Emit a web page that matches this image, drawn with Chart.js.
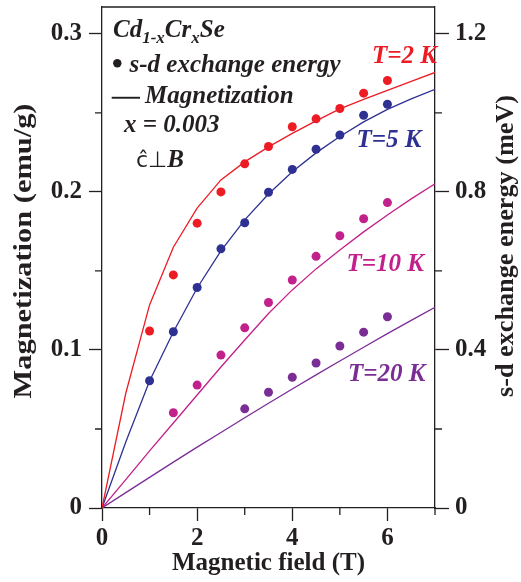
<!DOCTYPE html>
<html><head><meta charset="utf-8">
<script src="https://cdn.jsdelivr.net/npm/chart.js@4.4.1/dist/chart.umd.min.js"></script>
<style>html,body{margin:0;padding:0;background:#fff;}#wrap{width:521px;height:582px;}</style>
</head><body><div id="wrap"><canvas id="c" width="521" height="582"></canvas></div>
<script>
// Magnetization curves (left axis, emu/g), sampled every 0.5 T
const fieldLine = [0, 0.5, 1, 1.5, 2, 2.5, 3, 3.5, 4, 4.5, 5, 5.5, 6, 6.5, 7];
const magT2  = [0, 0.0726, 0.1285, 0.1650, 0.1897, 0.2076, 0.2190, 0.2285, 0.2370, 0.2449, 0.2525, 0.2585, 0.2642, 0.2699, 0.2756];
const magT5  = [0, 0.0418, 0.0804, 0.1114, 0.1392, 0.1627, 0.1823, 0.1987, 0.2127, 0.2247, 0.2351, 0.2443, 0.2522, 0.2589, 0.2649];
const magT10 = [0, 0.0180, 0.0361, 0.0538, 0.0715, 0.0892, 0.1063, 0.1231, 0.1380, 0.1513, 0.1633, 0.1747, 0.1854, 0.1956, 0.2051];
const magT20 = [0, 0.0097, 0.0194, 0.0290, 0.0385, 0.0478, 0.0571, 0.0663, 0.0753, 0.0842, 0.0930, 0.1017, 0.1103, 0.1187, 0.1270];

// s-d exchange energy points (right axis, meV)
const fieldT2  = [1, 1.5, 2, 2.5, 3, 3.5, 4, 4.5, 5, 5.5, 6];
const sdT2     = [0.448, 0.590, 0.721, 0.800, 0.871, 0.915, 0.965, 0.985, 1.011, 1.050, 1.082];
const fieldT5  = [1, 1.5, 2, 2.5, 3, 3.5, 4, 4.5, 5, 5.5, 6];
const sdT5     = [0.322, 0.446, 0.558, 0.656, 0.722, 0.799, 0.857, 0.908, 0.944, 0.994, 1.022];
const fieldT10 = [1.5, 2, 2.5, 3, 3.5, 4, 4.5, 5, 5.5, 6];
const sdT10    = [0.241, 0.311, 0.387, 0.456, 0.520, 0.577, 0.637, 0.689, 0.732, 0.773];
const fieldT20 = [3, 3.5, 4, 4.5, 5, 5.5, 6];
const sdT20    = [0.251, 0.293, 0.331, 0.367, 0.410, 0.445, 0.484];

// Tick labels
const xTickLabels  = {0: '0', 2: '2', 4: '4', 6: '6'};
const yTickLabels  = ['0', '0.1', '0.2', '0.3'];
const y2TickLabels = ['0', '0.4', '0.8', '1.2'];

const tempLabels = ['T=2 K', 'T=5 K', 'T=10 K', 'T=20 K'];
const xTitle = 'Magnetic field (T)';
const yTitle = 'Magnetization (emu/g)';
const y2Title = 's-d exchange energy (meV)';

const RED = '#ed1c24', BLUE = '#2e3192', MAG = '#c2208b', PUR = '#7b2d96';
const INK = '#231f20';
const SERIF = "'Liberation Serif', 'Times New Roman', serif";

const pts = (xs, ys) => xs.map((x, i) => ({x: x, y: ys[i]}));
const lineDs = (ys, c) => ({type: 'line', data: pts(fieldLine, ys), yAxisID: 'y', borderColor: c,
  borderWidth: 1.3, pointRadius: 0, tension: 0, fill: false});
const dotDs = (xs, ys, c) => ({type: 'scatter', data: pts(xs, ys), yAxisID: 'y2', backgroundColor: c,
  borderColor: c, borderWidth: 0, pointRadius: 4.5, showLine: false});

const isMult = (v, s) => Math.abs(v / s - Math.round(v / s)) < 1e-6;
const noPadV = s => { s.paddingTop = 0; s.paddingBottom = 0; };

function vTitle(ctx, text, cx, cy, len) {
  ctx.save();
  ctx.fillStyle = INK;
  ctx.font = 'bold 25px ' + SERIF;
  ctx.textAlign = 'center'; ctx.textBaseline = 'middle';
  const w = ctx.measureText(text).width;
  ctx.translate(cx, cy);
  ctx.rotate(-Math.PI / 2);
  ctx.scale(len / w, 1);
  ctx.fillText(text, 0, 0);
  ctx.restore();
}

const decor = {
  id: 'decor',
  afterDraw(chart) {
    const ctx = chart.ctx, a = chart.chartArea;
    const xs = chart.scales.x, ys = chart.scales.y, y2 = chart.scales.y2;
    ctx.save();
    ctx.strokeStyle = INK; ctx.lineWidth = 1.3;
    ctx.beginPath();
    // frame top
    ctx.moveTo(a.left, a.top); ctx.lineTo(a.right, a.top);
    for (const t of xs.ticks) if (!isMult(t.value, 2)) {
      const p = xs.getPixelForValue(t.value); ctx.moveTo(p, a.bottom); ctx.lineTo(p, a.bottom + 7);
    }
    for (const t of ys.ticks) if (!isMult(t.value, 0.1)) {
      const p = ys.getPixelForValue(t.value); ctx.moveTo(a.left, p); ctx.lineTo(a.left - 7, p);
    }
    for (const t of y2.ticks) if (!isMult(t.value, 0.4)) {
      const p = y2.getPixelForValue(t.value); ctx.moveTo(a.right, p); ctx.lineTo(a.right + 7, p);
    }
    ctx.stroke();
    ctx.restore();

    // axis titles (vertical ones read bottom to top)
    vTitle(ctx, yTitle, 25, 251, 295);
    vTitle(ctx, y2Title, 507, 246, 302);

    // legend / annotation block
    const L = a.left, T = a.top;
    ctx.save();
    ctx.fillStyle = INK; ctx.textAlign = 'left'; ctx.textBaseline = 'alphabetic';
    const BI = 'italic bold 25px ' + SERIF, BIs = 'italic bold 17px ' + SERIF;
    let x = L + 11;
    const seq = [['Cd', BI, 0], ['1-x', BIs, 6.5], ['Cr', BI, 0], ['x', BIs, 6.5], ['Se', BI, 0]];
    for (const [s, f, dy] of seq) { ctx.font = f; ctx.fillText(s, x, T + 29.7 + dy); x += ctx.measureText(s).width; }
    ctx.beginPath(); ctx.arc(L + 15.3, T + 56.3, 4.2, 0, Math.PI * 2); ctx.fill();
    ctx.font = BI; ctx.fillText('s-d exchange energy', L + 27.5, T + 64.7);
    ctx.fillRect(L + 9.7, T + 89.8, 28.3, 1.9);
    ctx.fillText('Magnetization', L + 43, T + 96.3);
    ctx.fillText('x = 0.003', L + 22, T + 124.7);
    ctx.font = '22px "DejaVu Sans"';
    ctx.fillText('\u0109\u22A5', L + 34, T + 159.7);
    const w = ctx.measureText('\u0109\u22A5').width;
    ctx.font = BI; ctx.fillText('B', L + 34 + w, T + 159.7);

    // temperature labels
    const tl = [[tempLabels[0], RED, 372, 63], [tempLabels[1], BLUE, 356.5, 147],
                [tempLabels[2], MAG, 346.5, 271], [tempLabels[3], PUR, 348, 381]];
    for (const [s, c, px, py] of tl) { ctx.fillStyle = c; ctx.fillText(s, px, py); }
    ctx.restore();
  }
};

new Chart(document.getElementById('c'), {
  data: {
    datasets: [
      lineDs(magT2, RED), lineDs(magT5, BLUE), lineDs(magT10, MAG), lineDs(magT20, PUR),
      dotDs(fieldT2, sdT2, RED), dotDs(fieldT5, sdT5, BLUE), dotDs(fieldT10, sdT10, MAG), dotDs(fieldT20, sdT20, PUR)
    ]
  },
  options: {
    responsive: false, animation: false, devicePixelRatio: 1,
    layout: {padding: {top: 7, left: 0, right: 0, bottom: 0}},
    plugins: {legend: {display: false}, tooltip: {enabled: false}},
    scales: {
      x: {
        type: 'linear', position: 'bottom', min: 0, max: 7,
        afterFit: s => { s.height = 74; s.paddingLeft = 0; s.paddingRight = 0; },
        ticks: {stepSize: 1, includeBounds: false, maxRotation: 0, autoSkip: false, padding: 3,
          color: INK, font: {family: SERIF, size: 25, weight: 'bold'},
          callback: v => (xTickLabels[v] !== undefined ? xTickLabels[v] : '')},
        grid: {drawOnChartArea: false, drawTicks: true, tickLength: 13, tickWidth: 1.3,
          tickColor: c => (c.tick && isMult(c.tick.value, 2) ? INK : 'rgba(0,0,0,0)')},
        border: {color: INK, width: 1.3},
        title: {display: true, text: xTitle, color: INK, padding: {top: 0, bottom: 3},
          font: {family: SERIF, size: 25, weight: 'bold'}}
      },
      y: {
        type: 'linear', position: 'left', min: 0, max: 0.317,
        afterFit: s => { s.width = 102; noPadV(s); },
        ticks: {stepSize: 0.05, includeBounds: false, autoSkip: false, padding: 7,
          color: INK, font: {family: SERIF, size: 25, weight: 'bold'},
          callback: v => (isMult(v, 0.1) ? yTickLabels[Math.round(v / 0.1)] : '')},
        grid: {drawOnChartArea: false, drawTicks: true, tickLength: 13, tickWidth: 1.3,
          tickColor: c => (c.tick && isMult(c.tick.value, 0.1) ? INK : 'rgba(0,0,0,0)')},
        border: {color: INK, width: 1.3},
        title: {display: false, text: yTitle}
      },
      y2: {
        type: 'linear', position: 'right', min: 0, max: 1.268,
        afterFit: s => { s.width = 86; noPadV(s); },
        ticks: {stepSize: 0.2, includeBounds: false, autoSkip: false, padding: 6,
          color: INK, font: {family: SERIF, size: 25, weight: 'bold'},
          callback: v => (isMult(v, 0.4) ? y2TickLabels[Math.round(v / 0.4)] : '')},
        grid: {drawOnChartArea: false, drawTicks: true, tickLength: 14, tickWidth: 1.3,
          tickColor: c => (c.tick && isMult(c.tick.value, 0.4) ? INK : 'rgba(0,0,0,0)')},
        border: {color: INK, width: 1.3},
        title: {display: false, text: y2Title}
      }
    }
  },
  plugins: [decor]
});
</script>
</body></html>
